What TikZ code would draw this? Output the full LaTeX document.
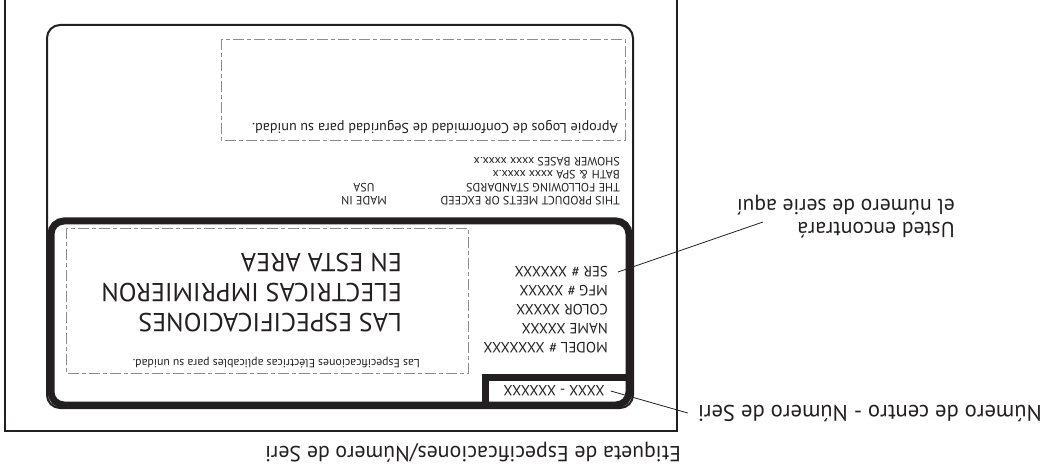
\documentclass[tikz,border=0pt]{standalone}
\usepackage{fontspec}
\setmainfont{PT Sans}
\definecolor{ink}{HTML}{231F20}
\definecolor{dashgray}{HTML}{8C8C8C}
\begin{document}
\begin{tikzpicture}[x=1pt,y=-1pt,
  txt/.style={rotate=180,inner sep=0pt,text=ink},
  fs/.style={font=\fontsize{#1}{#1}\selectfont},
  dashbox/.style={draw=dashgray,line width=0.8pt,dash pattern=on 11pt off 3pt on 4pt off 3pt},
  thinline/.style={draw=ink,line width=1.5pt},
  leader/.style={draw=ink,line width=0.8pt}]
\useasboundingbox (0,0) rectangle (1047,473);
% outer frame (cut off at the top)
\draw[thinline] (5,-5) rectangle (677,431);
% label outline
\draw[draw=ink,line width=2pt,rounded corners=13pt] (47,25) rectangle (633,408);
% thick spec area
\draw[draw=ink,line width=7pt,rounded corners=13pt] (51,221) rectangle (629,405);
\draw[draw=ink,line width=7pt] (485,405) -- (485,377) -- (629,377);
% dashed boxes
\draw[dashbox] (221,39) rectangle (625,140);
\draw[dashbox] (66,228) rectangle (468,373);
% top texts
\node[txt,fs=14.2,anchor=west] (logos) at (618,127) {Apropie Logos de Conformidad de Seguridad para su unidad.};
\node[txt,fs=12,anchor=west] (std1) at (620,201) {THIS PRODUCT MEETS OR EXCEED};
\node[txt,fs=12,anchor=west] (std2) at (620,188) {THE FOLLOWING STANDARDS};
\node[txt,fs=12,anchor=west] (std3) at (620,175) {BATH \& SPA xxxx xxxx.x};
\node[txt,fs=12,anchor=west] (std4) at (620,162) {SHOWER BASES xxxx xxxx.x};
\node[txt,fs=12] (made) at (364,201) {MADE IN};
\node[txt,fs=12] (usa) at (364,188) {USA};
% spec lines
\node[txt,fs=14.8,anchor=west] (ser) at (608,272) {SER \# XXXXXX};
\node[txt,fs=14.8,anchor=west] (mfg) at (608,291) {MFG \# XXXXX};
\node[txt,fs=14.8,anchor=west] (color) at (608,310) {COLOR XXXXX};
\node[txt,fs=14.8,anchor=west] (name) at (608,329) {NAME XXXXX};
\node[txt,fs=14.8,anchor=west] (model) at (608,348) {MODEL \# XXXXXXX};
\node[txt,fs=14.8] (serial) at (554,391) {XXXX - XXXXXX};
% big text
\node[txt,fs=26,anchor=west] (big1) at (402,323) {LAS ESPECIFICACIONES};
\node[txt,fs=26,anchor=west] (big2) at (402,293) {ELECTRICAS IMPRIMIERON};
\node[txt,fs=26,anchor=west] (big3) at (402,263) {EN ESTA AREA};
\node[txt,fs=11.8,anchor=west] (small) at (420,363) {Las Especificaciones Eléctricas aplicables para su unidad.};
% callouts
\node[txt,fs=21.6,anchor=west] (call1a) at (955,230) {Usted encontrará};
\node[txt,fs=21.6,anchor=west] (call1b) at (955,205) {el número de serie aquí};
\node[txt,fs=22.6,anchor=west] (call2) at (1042,413) {Número de centro - Número de Seri};
\node[txt,fs=21.8,anchor=west] (caption) at (681,452) {Etiqueta de Especificaciones/Número de Seri};
% leaders
\coordinate (serend) at ([xshift=10pt]ser.west);
\coordinate (call1end) at (763,222);
\draw[leader] (serend) -- (call1end);
\coordinate (serialend) at ([xshift=6pt]serial.west);
\coordinate (call2end) at ([xshift=-10pt]call2.east);
\draw[leader] (serialend) -- (call2end);
\end{tikzpicture}
\end{document}
